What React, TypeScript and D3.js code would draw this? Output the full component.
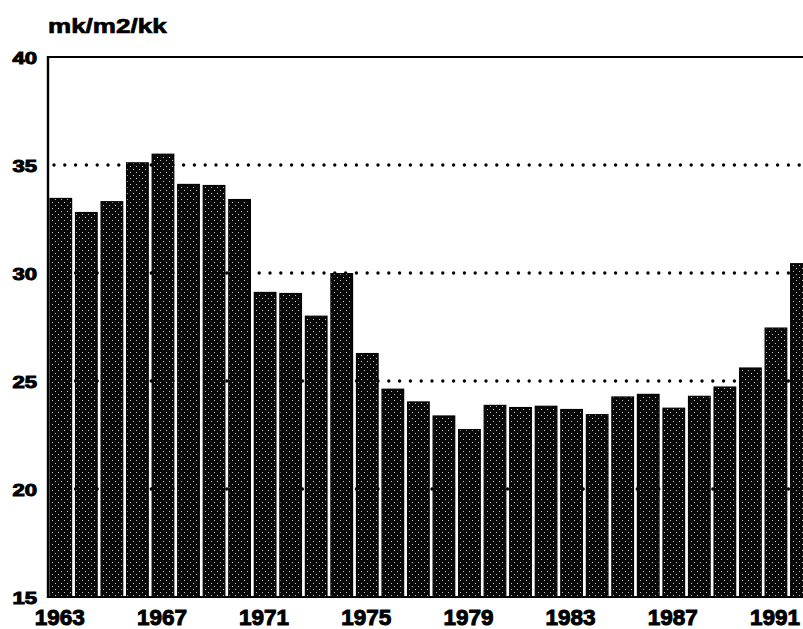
import { useMemo } from "react";
import * as d3 from "d3";

const WIDTH = 803;
const HEIGHT = 629;
const MARGIN = { top: 57, left: 48, bottom: 32 };

// building cost index, mk per m2 per kk
const years = d3.range(1963, 1993);
const values = [
  33.45, 32.8, 33.3, 35.1, 35.5, 34.1, 34.05, 33.4, 29.1, 29.05,
  28.0, 29.97, 26.27, 24.62, 24.03, 23.38, 22.75, 23.87, 23.77, 23.83,
  23.68, 23.44, 24.26, 24.38, 23.74, 24.29, 24.72, 25.6, 27.45, 30.43,
];
const yTicks = [15, 20, 25, 30, 35, 40];
const gridTicks = [20, 25, 30, 35];
const xLabels = [1963, 1967, 1971, 1975, 1979, 1983, 1987, 1991];
const unitLabel = "mk/m2/kk";

const FONT = "'Liberation Sans', Arial, sans-serif";

export default function App() {
  const plotBottom = HEIGHT - MARGIN.bottom;
  const step = 25.54;

  const yScale = useMemo(
    () => d3.scaleLinear().domain([15, 40]).range([plotBottom, MARGIN.top]),
    [plotBottom]
  );

  const xScale = useMemo(
    () =>
      d3
        .scaleBand<number>()
        .domain(years)
        .range([MARGIN.left, MARGIN.left + step * (30 - 0.154 + 0.157)])
        .paddingInner(0.154)
        .paddingOuter(0.078),
    []
  );

  return (
    <svg
      width={WIDTH}
      height={HEIGHT}
      style={{ position: "absolute", left: 0, top: 0, background: "#fff" }}
    >
      <defs>
        <pattern id="stipple" width={6} height={6} patternUnits="userSpaceOnUse">
          <rect width={6} height={6} fill="#080808" />
          <rect x={1} y={1} width={1} height={1} fill="#fff" opacity={0.75} />
          <rect x={4} y={4} width={1} height={1} fill="#fff" opacity={0.75} />
        </pattern>
      </defs>

      {/* dotted gridlines, behind the bars */}
      {gridTicks.map((t) => (
        <line
          key={t}
          x1={MARGIN.left + 6}
          x2={WIDTH}
          y1={yScale(t)}
          y2={yScale(t)}
          stroke="#000"
          strokeWidth={3.4}
          strokeLinecap="round"
          strokeDasharray="0 10.8"
        />
      ))}

      {/* bars */}
      {years.map((yr, i) => (
        <rect
          key={yr}
          x={xScale(yr)}
          y={yScale(values[i])}
          width={xScale.bandwidth()}
          height={plotBottom - yScale(values[i])}
          fill="url(#stipple)"
          stroke="#000"
          strokeWidth={1.2}
        />
      ))}

      {/* frame */}
      <line x1={MARGIN.left} x2={WIDTH} y1={yScale(40)} y2={yScale(40)} stroke="#000" strokeWidth={2} />
      <line x1={MARGIN.left} x2={WIDTH} y1={plotBottom} y2={plotBottom} stroke="#000" strokeWidth={2} />
      <line x1={MARGIN.left} x2={MARGIN.left} y1={yScale(40) - 1} y2={plotBottom + 1} stroke="#000" strokeWidth={2.4} />

      {/* y tick labels */}
      {yTicks.map((t) => (
        <text
          key={t}
          transform={`translate(37,${yScale(t) + 7}) scale(1.3,1)`}
          textAnchor="end"
          fontFamily={FONT}
          fontWeight="bold"
          fontSize={17}
          stroke="#000"
          strokeWidth={1}
        >
          {t}
        </text>
      ))}

      {/* x labels */}
      {xLabels.map((yr) => (
        <text
          key={yr}
          x={(xScale(yr) ?? 0) + xScale.bandwidth() / 2 - 1}
          y={625}
          textAnchor="middle"
          fontFamily={FONT}
          fontWeight="bold"
          fontSize={22.5}
          stroke="#000"
          strokeWidth={1}
        >
          {yr}
        </text>
      ))}

      {/* unit */}
      <text
        transform="translate(48,33) scale(1.24,1)"
        fontFamily={FONT}
        fontWeight="bold"
        fontSize={21}
        stroke="#000"
        strokeWidth={0.7}
      >
        {unitLabel}
      </text>
    </svg>
  );
}
